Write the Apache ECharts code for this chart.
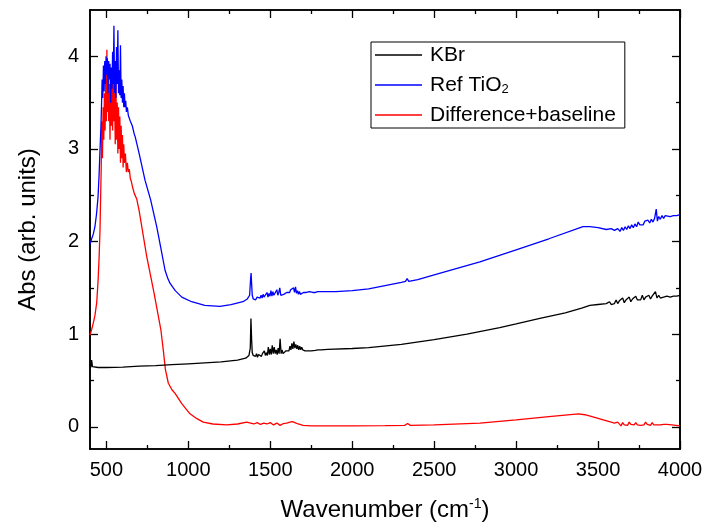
<!DOCTYPE html>
<html><head><meta charset="utf-8">
<script src="https://cdn.jsdelivr.net/npm/echarts@6/dist/echarts.min.js"></script>
<style>html,body{margin:0;padding:0;background:#fff}#c{width:708px;height:531px}</style>
</head><body><div id="c"></div>
<script>
// ---------- data ----------
const seriesNames = ['KBr', 'Ref TiO2', 'Difference+baseline'];
const xTicksMajor = [500, 1000, 1500, 2000, 2500, 3000, 3500, 4000];
const xTicksMinor = [750, 1250, 1750, 2250, 2750, 3250, 3750];
const yTicksMajor = [0, 1, 2, 3, 4];
const yTicksMinor = [0.5, 1.5, 2.5, 3.5];

const kbrX = [400,405,410,415,425,450,500,600,700,800,900,1000,1100,1200,1300,1350,1370,1378,1382,1386,1390,1396,1404,
 1410,1416,1422,1428,1434,1440,1446,1452,1458,1464,1470,1476,1482,1488,1494,1500,1506,1512,1518,1524,1530,1536,1542,1548,1554,1560,1566,1572,1578,1584,1590,1596,1602,1608,1614,1620,1626,1632,1638,1644,1650,1656,1662,1668,1674,1680,1686,1692,1698,1704,1712,1720,1730,1740,1750,1762,1775,1790,1810,1850,
 2000,2100,2300,2500,2700,2900,3000,3145,3300,3400,3450,3500,3550,
 3560,3570,3580,3590,3600,3610,3620,3630,3640,3650,3660,3670,3680,3690,3700,3710,3720,3730,3740,3750,3760,3770,3780,3790,3800,3810,3820,3830,3840,3850,3860,3870,3880,3890,3900,3920,3940,3960,3980,4000];
const kbrY = [0.67,0.64,0.72,0.65,0.64,0.64,0.64,0.645,0.655,0.66,0.67,0.68,0.69,0.70,0.72,0.74,0.77,0.85,1.17,0.95,0.80,0.77,0.78,
 0.76,0.79,0.75,0.78,0.76,0.80,0.76,0.79,0.77,0.82,0.77,0.80,0.77,0.86,0.78,0.84,0.78,0.88,0.79,0.86,0.79,0.83,0.78,0.85,0.79,0.95,0.79,0.83,0.79,0.81,0.80,0.82,0.81,0.84,0.82,0.87,0.83,0.90,0.84,0.92,0.85,0.89,0.84,0.88,0.83,0.87,0.83,0.86,0.83,0.85,0.82,0.84,0.82,0.835,0.82,0.83,0.825,0.83,0.83,0.835,
 0.845,0.855,0.89,0.94,1.00,1.07,1.11,1.17,1.23,1.28,1.31,1.32,1.33,
 1.33,1.35,1.32,1.34,1.33,1.37,1.33,1.36,1.34,1.39,1.34,1.37,1.35,1.40,1.35,1.38,1.36,1.41,1.37,1.39,1.37,1.42,1.37,1.40,1.38,1.42,1.38,1.41,1.39,1.46,1.39,1.42,1.39,1.41,1.40,1.41,1.40,1.41,1.41,1.42];

const tio2X = [400,410,420,430,440,449,455,461,466,470,
 474,478,482,486,490,494,498,502,506,510,514,518,522,526,530,534,538,542,546,550,554,558,562,566,570,574,578,582,586,590,594,598,602,606,610,614,618,622,628,634,640,646,652,658,664,670,676,
 700,736,770,807,830,858,875,888,920,960,1020,1100,1193,1260,1333,1360,1374,1380,1383,1386,1390,1396,1404,1410,
 1420,1426,1432,1438,1444,1450,1456,1462,1468,1474,1480,1486,1492,1498,1504,1510,1516,1522,1528,1534,1540,1546,1552,1558,1564,1570,1576,1582,1588,1594,1600,1606,1612,1618,1624,1630,1636,1642,1648,1654,1660,1666,1672,1678,1684,1690,1696,1702,1710,1720,1730,1740,1750,1760,1775,1790,1800,
 1900,2000,2100,2300,2325,2335,2345,2400,2500,2779,3000,3200,3408,3450,3500,3550,
 3580,3600,3620,3634,3645,3655,3665,3675,3685,3695,3705,3715,3725,3735,3745,3755,3765,3775,3785,3795,3805,3815,3825,3835,3845,3855,3862,3870,3880,3890,3900,3910,3920,3940,3960,3980,4000];
const tio2Y = [1.97,2.03,2.08,2.16,2.30,2.48,2.70,2.99,3.20,3.45,
 3.75,3.55,3.90,3.62,3.95,3.70,4.00,3.80,3.98,3.60,3.95,3.75,3.92,3.50,3.88,3.65,4.05,3.70,4.33,3.60,3.95,3.55,4.10,3.70,4.28,3.60,3.85,3.58,4.12,3.55,3.75,3.50,3.68,3.45,3.60,3.45,3.52,3.40,3.45,3.36,3.38,3.30,3.32,3.25,3.24,3.16,3.13,
 2.95,2.66,2.45,2.16,1.95,1.69,1.60,1.55,1.47,1.40,1.35,1.31,1.30,1.32,1.35,1.38,1.42,1.60,1.66,1.55,1.42,1.38,1.39,1.37,
 1.40,1.38,1.41,1.39,1.42,1.39,1.43,1.40,1.41,1.39,1.45,1.40,1.44,1.41,1.47,1.41,1.46,1.42,1.44,1.41,1.48,1.42,1.45,1.50,1.42,1.44,1.41,1.43,1.42,1.43,1.45,1.44,1.46,1.45,1.48,1.47,1.46,1.50,1.45,1.51,1.44,1.47,1.43,1.46,1.43,1.45,1.43,1.45,1.44,1.45,1.44,1.46,1.44,1.45,1.45,1.46,1.46,
 1.46,1.47,1.49,1.56,1.57,1.60,1.57,1.59,1.64,1.78,1.91,2.03,2.16,2.16,2.15,2.13,
 2.14,2.12,2.14,2.11,2.15,2.12,2.16,2.13,2.17,2.14,2.18,2.15,2.19,2.16,2.21,2.18,2.20,2.18,2.22,2.20,2.23,2.20,2.24,2.21,2.25,2.35,2.22,2.27,2.24,2.28,2.25,2.28,2.26,2.27,2.28,2.28,2.29];

const diffX = [400,410,420,430,441,450,456,461,465,468,
 472,476,480,484,488,492,496,500,503,506,510,514,518,522,526,530,534,538,542,546,550,554,558,562,566,570,574,578,582,586,590,594,598,602,606,610,616,622,628,634,640,646,652,658,664,670,676,685,
 700,746,790,833,847,860,878,900,919,960,1010,1050,1091,1150,1234,1300,1356,1380,
 1400,1420,1440,1460,1480,1500,1520,1540,1560,1580,1600,1620,1635,1650,1670,1700,1750,1850,2000,2200,2320,2338,2355,2500,2779,3000,3200,3380,3420,3500,3580,3600,
 3610,3620,3630,3640,3650,3660,3670,3680,3690,3700,3710,3720,3730,3740,3750,3760,3770,3780,3790,3800,3810,3820,3830,3840,3850,3860,3870,3880,3890,3900,3920,3950,4000];
const diffY = [0.99,1.05,1.12,1.20,1.34,1.60,1.85,2.12,2.50,2.75,
 3.30,2.90,3.45,3.10,3.60,3.20,3.75,3.30,4.07,3.40,3.85,3.30,3.70,3.10,3.65,3.25,3.80,3.20,3.95,3.30,3.60,3.05,3.70,3.10,3.50,2.95,3.45,3.00,3.35,2.85,3.25,2.90,3.15,2.80,3.05,2.85,2.95,2.75,2.85,2.75,2.78,2.68,2.65,2.60,2.60,2.52,2.50,2.46,
 2.33,1.84,1.45,1.04,0.83,0.62,0.47,0.40,0.36,0.25,0.14,0.09,0.05,0.03,0.02,0.03,0.05,0.04,
 0.03,0.045,0.025,0.04,0.03,0.045,0.02,0.04,0.015,0.035,0.04,0.05,0.055,0.045,0.03,0.015,0.01,0.01,0.01,0.012,0.015,0.035,0.015,0.02,0.04,0.075,0.11,0.14,0.13,0.09,0.05,0.04,
 0.02,0.05,0.03,0.01,0.045,0.02,0.04,0.015,0.05,0.025,0.035,0.02,0.045,0.02,0.04,0.015,0.035,0.02,0.05,0.025,0.04,0.015,0.045,0.02,0.035,0.02,0.04,0.02,0.03,0.025,0.025,0.02,0.01];

// ---------- chart ----------
const zip = (xs, ys) => xs.map((x, i) => [x, ys[i]]);
const FONT = '"Liberation Sans", Arial, sans-serif';
const chart = echarts.init(document.getElementById('c'), null, {renderer: 'canvas'});
const plain = v => String(v);

function xAx(pos, ticks, len, showLabel, extra) {
  return Object.assign({
    type: 'value', min: 400, max: 4000, position: pos,
    axisLine: {show: true, onZero: false, lineStyle: {color: '#000', width: 1.6}},
    axisTick: {show: true, inside: true, length: len, customValues: ticks, lineStyle: {color: '#000', width: 1.3}},
    axisLabel: {show: showLabel, customValues: ticks, formatter: plain, color: '#000', fontSize: 20, fontFamily: FONT, margin: 11},
    splitLine: {show: false}
  }, extra || {});
}
function yAx(pos, ticks, len, showLabel, extra) {
  return Object.assign({
    type: 'value', min: -0.24, max: 4.5, position: pos,
    axisLine: {show: true, onZero: false, lineStyle: {color: '#000', width: 1.6}},
    axisTick: {show: true, inside: true, length: len, customValues: ticks, lineStyle: {color: '#000', width: 1.3}},
    axisLabel: {show: showLabel, customValues: ticks, formatter: plain, color: '#000', fontSize: 20, fontFamily: FONT, margin: 11},
    splitLine: {show: false}
  }, extra || {});
}

const colors = ['#000000', '#0000ff', '#ff0000'];
const datas = [zip(kbrX, kbrY), zip(tio2X, tio2Y), zip(diffX, diffY)];

chart.setOption({
  animation: false,
  backgroundColor: '#fff',
  grid: {left: 90, right: 28, top: 10, bottom: 82, containLabel: false},
  xAxis: [
    xAx('bottom', xTicksMajor, 8, true, {
      name: 'Wavenumber (cm{sup|-1})', nameLocation: 'middle', nameGap: 48,
      nameTextStyle: {color: '#000', fontSize: 24, fontFamily: FONT,
        rich: {sup: {fontSize: 14, verticalAlign: 'top', padding: [0, 0, 12, 0], fontFamily: FONT, color: '#000'}}}
    }),
    xAx('bottom', xTicksMinor, 4, false),
    xAx('top', xTicksMajor, 8, false),
    xAx('top', xTicksMinor, 4, false)
  ],
  yAxis: [
    yAx('left', yTicksMajor, 8, true, {
      name: 'Abs (arb. units)', nameLocation: 'middle', nameGap: 50,
      nameTextStyle: {color: '#000', fontSize: 24, fontFamily: FONT}
    }),
    yAx('left', yTicksMinor, 4, false),
    yAx('right', yTicksMajor, 8, false),
    yAx('right', yTicksMinor, 4, false)
  ],
  legend: {
    orient: 'vertical', left: 371, top: 42,
    data: seriesNames,
    icon: 'rect', itemWidth: 47, itemHeight: 1.5, itemGap: 8,
    backgroundColor: '#fff', borderColor: '#000', borderWidth: 1,
    padding: [2, 9, 2, 4],
    textStyle: {color: '#000', fontSize: 21, fontFamily: FONT, lineHeight: 22, padding: [0, 0, 0, 3],
      rich: {sub: {fontSize: 13, verticalAlign: 'bottom', padding: [12, 0, 0, 0], fontFamily: FONT, color: '#000'},
             n: {fontSize: 21, fontFamily: FONT, color: '#000'}}},
    formatter: function (n) { return n === 'Ref TiO2' ? '{n|Ref TiO}{sub|2}' : n; }
  },
  series: seriesNames.map((n, i) => ({
    name: n, type: 'line', data: datas[i], showSymbol: false, symbol: 'none',
    xAxisIndex: 0, yAxisIndex: 0,
    lineStyle: {color: colors[i], width: 1.3}, itemStyle: {color: colors[i]},
    z: 3 - i
  }))
});
</script></body></html>
